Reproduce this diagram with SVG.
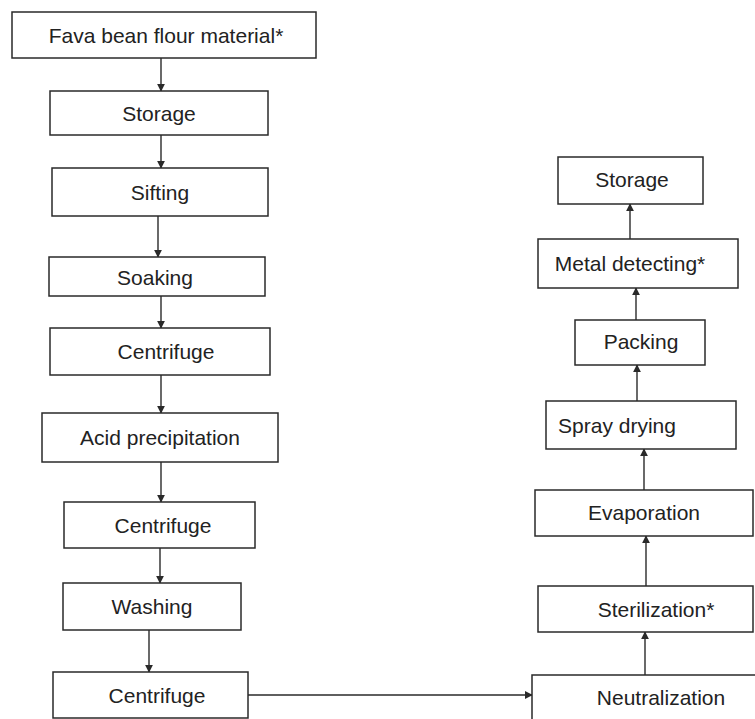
<svg xmlns="http://www.w3.org/2000/svg" width="755" height="719" viewBox="0 0 755 719">
<style>
.box{fill:#fff;stroke:#2a2a2a;stroke-width:1.5}
.lbl{font-family:"Liberation Sans",Arial,sans-serif;font-size:21px;fill:#222;text-anchor:middle;dominant-baseline:central}
.con{stroke:#2a2a2a;stroke-width:1.4;fill:none;marker-end:url(#ah)}
</style>
<defs>
<marker id="ah" viewBox="0 0 10 10" refX="9" refY="5" markerWidth="8" markerHeight="8" markerUnits="userSpaceOnUse" orient="auto">
<path d="M0,0 L10,5 L0,10 z" fill="#2a2a2a"/>
</marker>
</defs>
<rect width="755" height="719" fill="#fff"/>
<g id="connectors">
<line class="con" x1="161" y1="58" x2="161" y2="91"/>
<line class="con" x1="161" y1="135" x2="161" y2="168"/>
<line class="con" x1="158" y1="216" x2="158" y2="257"/>
<line class="con" x1="161" y1="296" x2="161" y2="328"/>
<line class="con" x1="161" y1="375" x2="161" y2="413"/>
<line class="con" x1="161" y1="462" x2="161" y2="502"/>
<line class="con" x1="160" y1="548" x2="160" y2="583"/>
<line class="con" x1="149" y1="630" x2="149" y2="672"/>
<line class="con" x1="248" y1="695" x2="532" y2="695"/>
<line class="con" x1="645" y1="675" x2="645" y2="632"/>
<line class="con" x1="646" y1="586" x2="646" y2="536"/>
<line class="con" x1="644" y1="490" x2="644" y2="449"/>
<line class="con" x1="637" y1="401" x2="637" y2="365"/>
<line class="con" x1="636" y1="320" x2="636" y2="288"/>
<line class="con" x1="630" y1="239" x2="630" y2="204"/>
</g>
<g id="n1"><rect class="box" x="12" y="12" width="304" height="46"/><text class="lbl" x="166" y="35">Fava bean flour material*</text></g>
<g id="n2"><rect class="box" x="50" y="91" width="218" height="44"/><text class="lbl" x="159" y="113">Storage</text></g>
<g id="n3"><rect class="box" x="52" y="168" width="216" height="48"/><text class="lbl" x="160" y="192">Sifting</text></g>
<g id="n4"><rect class="box" x="49" y="257" width="216" height="39"/><text class="lbl" x="155" y="277">Soaking</text></g>
<g id="n5"><rect class="box" x="50" y="328" width="220" height="47"/><text class="lbl" x="166" y="351">Centrifuge</text></g>
<g id="n6"><rect class="box" x="42" y="413" width="236" height="49"/><text class="lbl" x="160" y="437">Acid precipitation</text></g>
<g id="n7"><rect class="box" x="64" y="502" width="191" height="46"/><text class="lbl" x="163" y="525">Centrifuge</text></g>
<g id="n8"><rect class="box" x="63" y="583" width="178" height="47"/><text class="lbl" x="152" y="606">Washing</text></g>
<g id="n9"><rect class="box" x="53" y="672" width="195" height="46"/><text class="lbl" x="157" y="695">Centrifuge</text></g>
<g id="n10"><rect class="box" x="532" y="675" width="230" height="50"/><text class="lbl" x="661" y="697">Neutralization</text></g>
<g id="n11"><rect class="box" x="538" y="586" width="215" height="46"/><text class="lbl" x="656" y="609">Sterilization*</text></g>
<g id="n12"><rect class="box" x="535" y="490" width="218" height="46"/><text class="lbl" x="644" y="512">Evaporation</text></g>
<g id="n13"><rect class="box" x="546" y="401" width="190" height="48"/><text class="lbl" x="617" y="425">Spray drying</text></g>
<g id="n14"><rect class="box" x="575" y="320" width="130" height="45"/><text class="lbl" x="641" y="341">Packing</text></g>
<g id="n15"><rect class="box" x="538" y="239" width="200" height="49"/><text class="lbl" x="630" y="263">Metal detecting*</text></g>
<g id="n16"><rect class="box" x="558" y="157" width="145" height="47"/><text class="lbl" x="632" y="179">Storage</text></g>
</svg>
